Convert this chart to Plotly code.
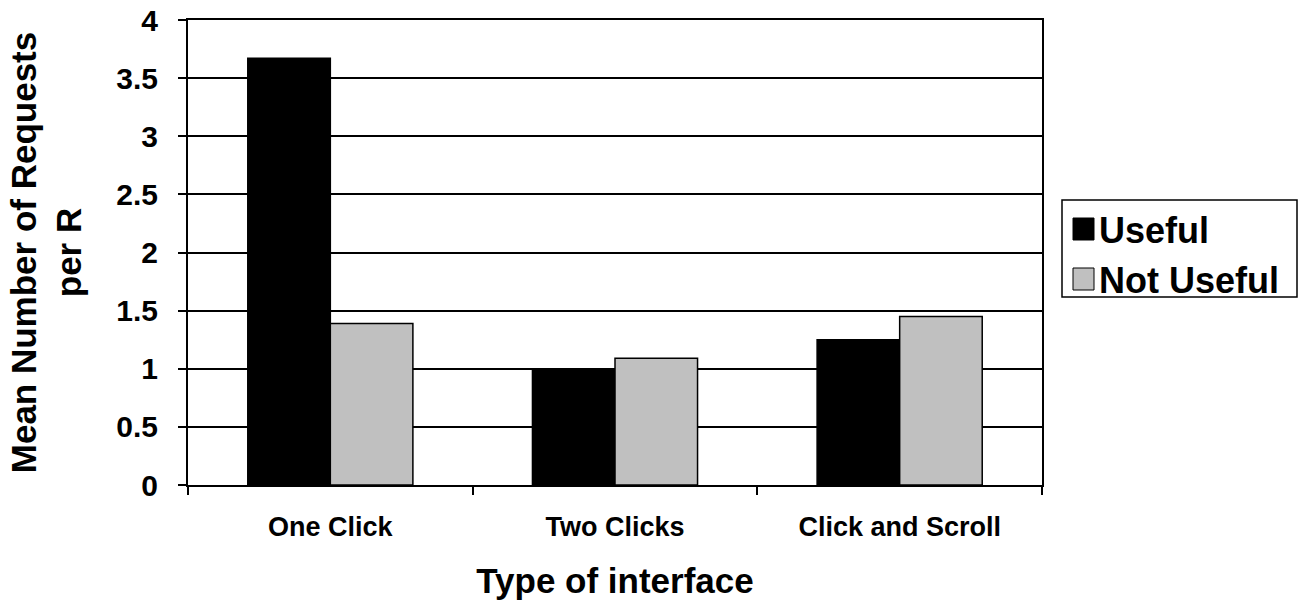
import plotly.graph_objects as go

# Mean number of requests per R, by interface type
categories = ["One Click", "Two Clicks", "Click and Scroll"]
useful = [3.67, 1.0, 1.25]
not_useful = [1.39, 1.09, 1.45]

series_names = ["Useful", "Not Useful"]
series_colors = ["#000000", "#C0C0C0"]
series_values = [useful, not_useful]

font_family = "Liberation Sans, Arial, sans-serif"

W, H = 1304, 604
ML, MR, MT, MB = 188, 262, 20, 119
PW, PH = W - ML - MR, H - MT - MB


def px_x(px):
    """Page x pixel -> paper coordinate."""
    return (px - ML) / PW


def px_y(py):
    """Page y pixel -> paper coordinate."""
    return (H - MB - py) / PH


fig = go.Figure()
for name, color, vals in zip(series_names, series_colors, series_values):
    fig.add_trace(go.Bar(
        x=categories, y=vals, name=name, showlegend=False,
        marker=dict(color=color, line=dict(color="#000000", width=1.5)),
    ))

# Boxed legend on the right, with large square swatches
shapes = [dict(type="rect", xref="paper", yref="paper",
               x0=px_x(1062), x1=px_x(1297), y0=px_y(297), y1=px_y(200),
               line=dict(color="black", width=1.5), fillcolor="white")]
annotations = []
row_tops = [218, 268]
for top, name, color in zip(row_tops, series_names, series_colors):
    shapes.append(dict(type="rect", xref="paper", yref="paper",
                       x0=px_x(1073), x1=px_x(1094), y0=px_y(top + 22), y1=px_y(top),
                       line=dict(color="black", width=1), fillcolor=color))
    annotations.append(dict(xref="paper", yref="paper", x=px_x(1097), y=px_y(top + 12),
                            xanchor="left", yanchor="middle", showarrow=False,
                            text=f"<b>{name}</b>",
                            font=dict(size=36, family=font_family, color="black")))

fig.update_layout(
    width=W, height=H,
    margin=dict(l=ML, r=MR, t=MT, b=MB),
    paper_bgcolor="white", plot_bgcolor="white",
    barmode="group", bargap=0.42, bargroupgap=0,
    font=dict(family=font_family, color="black"),
    showlegend=False,
    shapes=shapes,
    annotations=annotations,
)

fig.update_xaxes(
    type="category", automargin=False,
    showline=True, linecolor="black", linewidth=2, mirror=True,
    ticks="outside", tickson="boundaries", ticklen=8, tickwidth=1.5, tickcolor="black",
    ticklabelstandoff=17,
    tickfont=dict(size=27, family=font_family, weight="bold"),
    title=dict(text="Type of interface", standoff=27,
               font=dict(size=35, family=font_family, weight="bold")),
    showgrid=False,
)
fig.update_yaxes(
    range=[0, 4], dtick=0.5, automargin=False,
    showline=True, linecolor="black", linewidth=2, mirror=True,
    ticks="outside", ticklen=8, tickwidth=1.5, tickcolor="black",
    ticklabelstandoff=14,
    tickfont=dict(size=30, family=font_family, weight="bold"),
    showgrid=True, gridcolor="black", gridwidth=1.5,
    zeroline=False,
    title=dict(text="Mean Number of Requests<br>per R", standoff=24,
               font=dict(size=35, family=font_family, weight="bold")),
)

fig.write_html("out.html")
